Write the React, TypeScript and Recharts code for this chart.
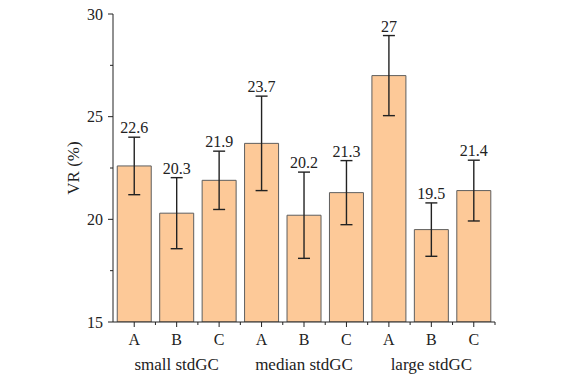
import React from 'react';
import { BarChart, Bar, XAxis, YAxis, ErrorBar, LabelList } from 'recharts';

const groups = ['small stdGC', 'median stdGC', 'large stdGC'];
const cats = ['A', 'B', 'C'];
const values = [22.6, 20.3, 21.9, 23.7, 20.2, 21.3, 27, 19.5, 21.4];
const errors = [1.4, 1.73, 1.42, 2.3, 2.1, 1.56, 1.95, 1.3, 1.48];
const yTicks = [15, 17.5, 20, 22.5, 25, 27.5, 30];

const data = values.map((v, i) => ({
  id: i, cat: cats[i % 3], group: groups[Math.floor(i / 3)], value: v, err: errors[i] }));

const FONT = "'Times New Roman', 'Liberation Serif', 'DejaVu Serif', serif";
const W = 579, H = 385;
const LEFT = 113, RIGHT = 84, TOP = 14, BOTTOM = 63;
const AXIS_Y = H - BOTTOM;
const BAND = (W - LEFT - RIGHT) / data.length;
const INK = '#222';
const txt = (size: number) => ({ fontFamily: FONT, fontSize: size, fill: INK });

const YTick = (p: any) => {
  const v = p.payload.value;
  const major = v % 5 === 0;
  return (
    <g>
      <line x1={LEFT - (major ? 5 : 3)} x2={LEFT} y1={p.y} y2={p.y} stroke={INK} strokeWidth={1} />
      {major && (
        <text x={LEFT - 10} y={p.y} dy="0.35em" textAnchor="end" style={txt(16)}>{v}</text>
      )}
    </g>
  );
};

const CatTick = (p: any) => {
  const d = data[p.index];
  return (
    <g>
      <line x1={p.x} x2={p.x} y1={AXIS_Y} y2={AXIS_Y + 5} stroke={INK} strokeWidth={1} />
      <line x1={p.x + BAND / 2} x2={p.x + BAND / 2} y1={AXIS_Y} y2={AXIS_Y + 3} stroke={INK} strokeWidth={1} />
      <text x={p.x} y={AXIS_Y + 23} textAnchor="middle" style={txt(16)}>{d ? d.cat : ''}</text>
    </g>
  );
};

const GroupTick = (p: any) => {
  const d = data[p.index];
  if (!d || p.index % 3 !== 1) return <g />;
  return (
    <text x={p.x} y={AXIS_Y + 48} textAnchor="middle" style={txt(17)}>{d.group}</text>
  );
};

const ValueLabel = (p: any) => {
  const vb = p.viewBox || p;
  const d = data[p.index];
  if (!d) return null;
  const k = vb.height / (d.value - 15);
  const top = vb.y - d.err * k;
  return (
    <text x={vb.x + vb.width / 2} y={top - 4} textAnchor="middle" style={txt(16)}>{d.value}</text>
  );
};

const MID = TOP + (AXIS_Y - TOP) / 2;

export default function App() {
  return (
    <div style={{ position: 'fixed', left: 0, top: 0, width: W, height: H, background: '#fff' }}>
      <BarChart width={W} height={H} data={data} barCategoryGap="10%"
        margin={{ top: TOP, right: RIGHT, left: 0, bottom: 0 }}>
        <XAxis xAxisId="cat" dataKey="id" interval={0} height={28} tick={<CatTick />} tickLine={false}
          axisLine={{ stroke: INK }} />
        <XAxis xAxisId="grp" dataKey="id" interval={0} height={35} tick={<GroupTick />} tickLine={false} axisLine={false} />
        <YAxis domain={[15, 30]} ticks={yTicks} width={LEFT} interval={0} tick={<YTick />} tickLine={false}
          axisLine={{ stroke: INK }} allowDataOverflow
          label={() => (
            <text x={75} y={MID} transform={`rotate(-90 75 ${MID})`}
              textAnchor="middle" dominantBaseline="middle" style={txt(17)}>VR (%)</text>
          )} />
        <Bar xAxisId="cat" dataKey="value" fill="#FDC998" stroke="#5e5e5e" strokeWidth={1} isAnimationActive={false}>
          <ErrorBar dataKey="err" width={6} stroke={INK} strokeWidth={1.4} direction="y" isAnimationActive={false} />
          <LabelList dataKey="value" content={<ValueLabel />} />
        </Bar>
      </BarChart>
    </div>
  );
}
